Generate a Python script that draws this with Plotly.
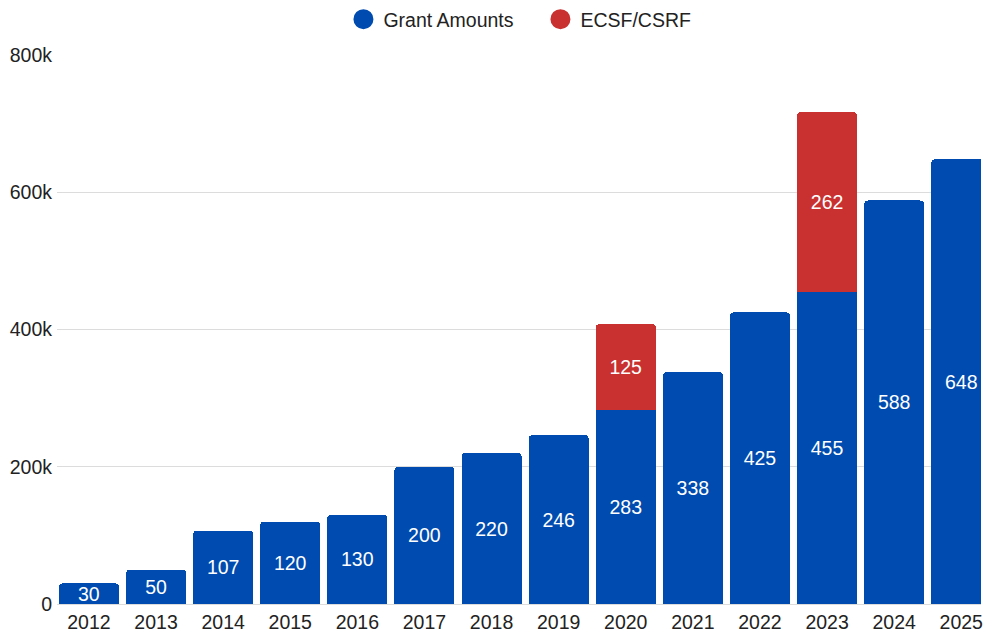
import plotly.graph_objects as go

years = ["2012", "2013", "2014", "2015", "2016", "2017", "2018", "2019",
         "2020", "2021", "2022", "2023", "2024", "2025"]
grant_amounts = [30000, 50000, 107000, 120000, 130000, 200000, 220000, 246000,
                 283000, 338000, 425000, 455000, 588000, 648000]
ecsf_csrf = [None, None, None, None, None, None, None, None,
             125000, None, None, 262000, None, None]
y_tick_vals = [0, 200000, 400000, 600000, 800000]
y_tick_text = ["0", "200k", "400k", "600k", "800k"]

BLUE = "#004BAF"
RED = "#C93030"
FONT = "Liberation Sans, Arial, sans-serif"
FS = 19.5
TXT = "#222222"

fig = go.Figure()
fig.add_trace(go.Bar(
    x=years, y=grant_amounts, name="Grant Amounts", marker_color=BLUE,
    marker_line_width=0, showlegend=False, legendgroup="g",
    text=[f"{v/1000:.0f}" for v in grant_amounts],
    textposition="inside", insidetextanchor="middle", textangle=0,
    textfont=dict(color="white", size=FS, family=FONT),
    constraintext="none", hoverinfo="x+y",
))
fig.add_trace(go.Bar(
    x=years, y=ecsf_csrf, name="ECSF/CSRF", marker_color=RED,
    marker_line_width=0, showlegend=False, legendgroup="e",
    text=[f"{v/1000:.0f}" if v else "" for v in ecsf_csrf],
    textposition="inside", insidetextanchor="middle", textangle=0,
    textfont=dict(color="white", size=FS, family=FONT),
    constraintext="none", hoverinfo="x+y",
))
# legend entries with circle symbols
fig.add_trace(go.Scatter(x=[None], y=[None], mode="markers", name="Grant Amounts",
                         marker=dict(color=BLUE, size=16, symbol="circle",
                                     line=dict(color=BLUE, width=4)),
                         legendgroup="g"))
fig.add_trace(go.Scatter(x=[None], y=[None], mode="markers", name="ECSF/CSRF",
                         marker=dict(color=RED, size=16, symbol="circle",
                                     line=dict(color=RED, width=4)),
                         legendgroup="e"))

fig.update_layout(
    width=983, height=635,
    barmode="stack", bargap=0.105, barcornerradius=4,
    plot_bgcolor="white", paper_bgcolor="white",
    margin=dict(l=57, r=0, t=55, b=31),
    font=dict(family=FONT, size=FS, color=TXT),
    uniformtext=dict(minsize=FS, mode="show"),
    legend=dict(orientation="h", x=0.31, xanchor="left", y=1.0, yanchor="top",
                yref="container", font=dict(size=FS, color=TXT),
                itemsizing="trace", traceorder="normal", entrywidth=152),
    xaxis=dict(type="category", range=[-0.476, 13.294], showgrid=False,
               showline=False, ticks="", ticklabelstandoff=4,
               tickfont=dict(size=FS, color=TXT)),
    yaxis=dict(range=[0, 800000], tickvals=y_tick_vals, ticktext=y_tick_text,
               showgrid=True, gridcolor="#DCDCDC", gridwidth=1,
               zeroline=True, zerolinecolor="#DCDCDC", zerolinewidth=1,
               showline=False, ticks="", ticklabelstandoff=4,
               tickfont=dict(size=FS, color=TXT)),
)
fig.write_html("out.html", config={"displayModeBar": False},
               post_script="document.body.style.margin='0';document.body.style.overflow='hidden';")
